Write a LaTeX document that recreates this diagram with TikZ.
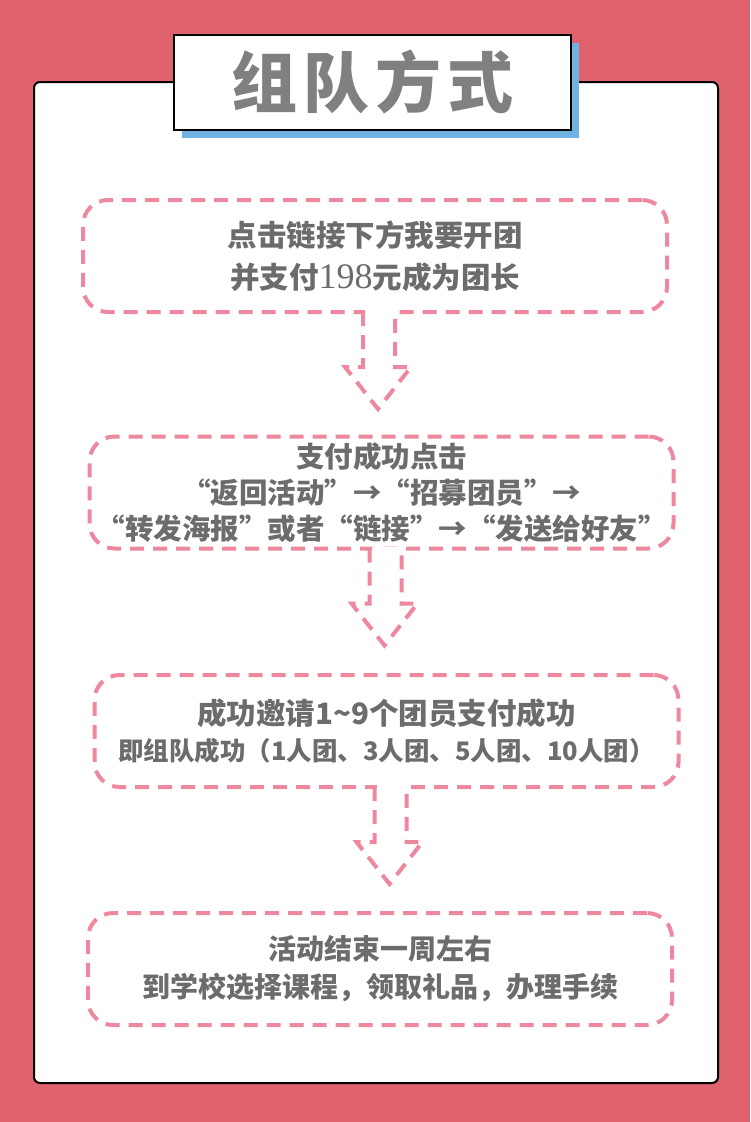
\documentclass[tikz,border=0pt]{standalone}
\usepackage{xcolor}
\usepackage{fontspec}
\usepackage{tikz}
\usetikzlibrary{positioning, calc, shadows}
\newfontfamily\cjk{Noto Sans CJK SC}
\newfontfamily\numfont{Liberation Serif}
\definecolor{bgred}{RGB}{224,98,110}
\definecolor{dashpink}{RGB}{238,136,158}
\definecolor{shadowblue}{RGB}{112,178,224}
\definecolor{textgray}{RGB}{108,108,108}
\definecolor{titlegray}{RGB}{128,128,128}
\tikzset{
	flowbox/.style={draw=dashpink, line width=4pt, dash pattern=on 14pt off 9pt, rounded corners=25pt, minimum width=584pt, minimum height=112pt, align=center, text=textgray, font=\cjk\bfseries\fontsize{28.5}{36}\selectfont},
	arrowline/.style={draw=dashpink, line width=4pt, dash pattern=on 14pt off 9pt},
	titlebox/.style={draw=black, line width=2pt, fill=white, minimum width=397pt, minimum height=95pt, text=titlegray, font=\cjk\bfseries\fontsize{66}{66}\selectfont, general shadow={fill=shadowblue, shadow xshift=8pt, shadow yshift=-8pt}}
}
% open arrow below a box
\newcommand{\flowarrow}[1]{%
	\fill [white] ($(#1.south)+(-10,-4)$) rectangle ($(#1.south)+(18,4)$);
	\draw [arrowline] ($(#1.south)+(-12,-2)$) -- ++(0,55) -- ++(-18,0) -- ++(33,42) -- ++(33,-42) -- ++(-16,0) -- ++(0,-55);
}
\begin{document}
\begin{tikzpicture}[x=1pt, y=-1pt]
				
				\fill [bgred] (0,0) rectangle (750,1122);
				\draw [line width=2pt, fill=white, rounded corners=6pt] (34,82) rectangle (718,1083);
				
				\node [titlebox] (title) at (372.5,82.5) {组\hspace{6pt}队\hspace{6pt}方\hspace{6pt}式};
				
				\node [flowbox, font=\cjk\bfseries\fontsize{29.5}{42}\selectfont] (b1) at (375,256) {点击链接下方我要开团\\并支付{\numfont\mdseries\fontsize{36}{42}\selectfont 198}元成为团长};
				\node [flowbox] (b2) at (381.5,492.5) {支付成功点击\\“返回活动”→“招募团员”→\\“转发海报”或者“链接”→“发送给好友”};
				\node [flowbox, font=\cjk\bfseries\fontsize{29.5}{36}\selectfont] (b3) at (386.5,731) {成功邀请1\textasciitilde 9个团员支付成功\\{\fontsize{25.5}{36}\selectfont 即组队成功（1人团、3人团、5人团、10人团）}};
				\node [flowbox, font=\cjk\bfseries\fontsize{28}{38}\selectfont] (b4) at (380,969) {活动结束一周左右\\到学校选择课程，领取礼品，办理手续};
				
				\flowarrow{b1}
				\flowarrow{b2}
				\flowarrow{b3}
		\end{tikzpicture}
\end{document}
